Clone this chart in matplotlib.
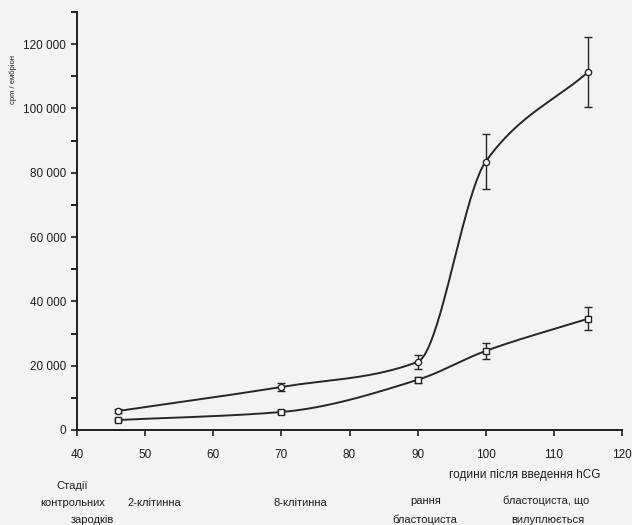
import numpy as np
import matplotlib
matplotlib.use('Agg')
import matplotlib.pyplot as plt

plt.rcParams['font.family'] = ['Liberation Sans', 'DejaVu Sans']

# години після введення hCG
hours = [46, 70, 90, 100, 115]
# зародки (кружки)
circ = [5900, 13400, 21200, 83500, 111300]
circ_err = [600, 1200, 2200, 8500, 11000]
# квадрати
sq = [3100, 5600, 15600, 24600, 34600]
sq_err = [300, 500, 1000, 2600, 3500]

xticks = [40, 50, 60, 70, 80, 90, 100, 110, 120]
yticks = [0, 20000, 40000, 60000, 80000, 100000, 120000]

W, H = 632, 525
# підписи стадій: (x, y у пікселях, текст)
stage_labels = [
    (72, 486, 'Стадії'), (73, 503, 'контрольних'), (92, 520, 'зародків'),
    (154, 503, '2-клітинна'), (300, 503, '8-клітинна'),
    (426, 501, 'рання'), (425, 520, 'бластоциста'),
    (546, 501, 'бластоциста, що'), (548, 520, 'вилуплюється'),
]


def pchip(x, y, n=300):
    # монотонна кубічна інтерполяція, щоб крива була гладкою
    x = np.asarray(x, float)
    y = np.asarray(y, float)
    h = np.diff(x)
    d = np.diff(y) / h
    m = np.zeros_like(y)
    for k in range(1, len(x) - 1):
        if d[k - 1] * d[k] > 0:
            w1 = 2 * h[k] + h[k - 1]
            w2 = h[k] + 2 * h[k - 1]
            m[k] = (w1 + w2) / (w1 / d[k - 1] + w2 / d[k])
    m[0] = d[0]
    m[-1] = d[-1]
    xs = np.linspace(x[0], x[-1], n)
    idx = np.clip(np.searchsorted(x, xs) - 1, 0, len(x) - 2)
    t = (xs - x[idx]) / h[idx]
    h00 = 2 * t**3 - 3 * t**2 + 1
    h10 = t**3 - 2 * t**2 + t
    h01 = -2 * t**3 + 3 * t**2
    h11 = t**3 - t**2
    ys = h00 * y[idx] + h10 * h[idx] * m[idx] + h01 * y[idx + 1] + h11 * h[idx] * m[idx + 1]
    return xs, ys


bg = '#f3f3f5'
tc = '#1e1e1e'
fig = plt.figure(figsize=(W / 100, H / 100), dpi=100, facecolor=bg)
ax = fig.add_axes([77 / W, 1 - 430 / H, 545 / W, 418 / H])
ax.set_facecolor(bg)

lc = '#262626'
for ys, err, mk in [(circ, circ_err, 'o'), (sq, sq_err, 's')]:
    cx, cy = pchip(hours, ys)
    ax.plot(cx, cy, color=lc, lw=1.4)
    ax.errorbar(hours, ys, yerr=err, fmt=mk, ms=4.5, mfc='white', mec=lc,
                mew=1.0, ecolor=lc, elinewidth=1.0, capsize=3, capthick=1.0)

ax.set_xlim(40, 120)
ax.set_ylim(0, 130000)
ax.set_xticks(xticks)
ax.set_yticks(yticks)
ax.set_yticks(list(range(10000, 120000, 20000)) + [130000], minor=True)
ax.set_yticklabels(['0' if v == 0 else f'{v // 1000} 000' for v in yticks])
ax.tick_params(axis='both', direction='out', length=4, width=1.2,
               labelsize=8.5, colors=tc, pad=4)
ax.tick_params(axis='y', which='minor', direction='out', length=4, width=1.2)
ax.tick_params(axis='x', pad=10)
for s in ['top', 'right']:
    ax.spines[s].set_visible(False)
for s in ['left', 'bottom']:
    ax.spines[s].set_linewidth(1.4)
    ax.spines[s].set_color(tc)

fig.text(13 / W, 1 - 79 / H, 'cpm / ембріон', rotation=90,
         ha='center', va='center', fontsize=5.5, color=tc)
fig.text(525 / W, 1 - 475 / H, 'години після введення hCG',
         ha='center', va='center', fontsize=8.5, color=tc)
for px, py, lab in stage_labels:
    fig.text(px / W, 1 - py / H, lab, ha='center', va='center',
             fontsize=8, color=tc)

fig.savefig('out.png', dpi=100, facecolor=fig.get_facecolor())
